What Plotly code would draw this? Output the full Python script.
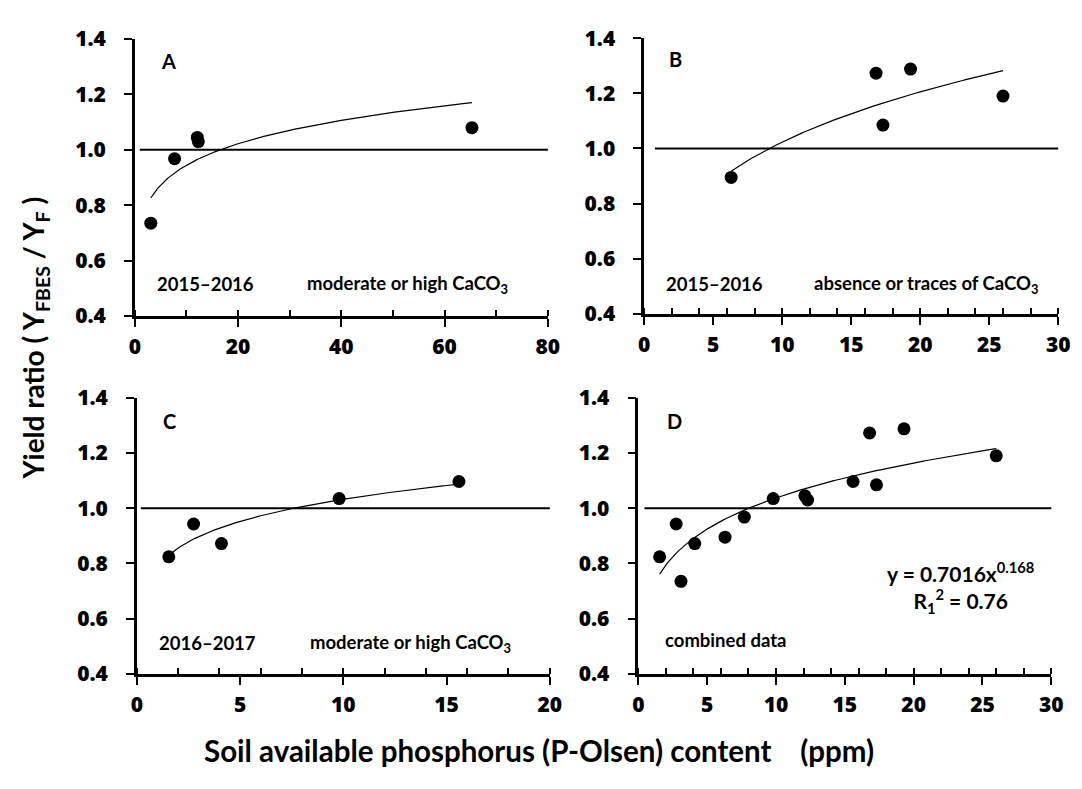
import numpy as np
import plotly.graph_objects as go

# ---------------- data ----------------
a_x = [3.1, 7.7, 12.1, 12.3, 65.3]
a_y = [0.735, 0.968, 1.045, 1.030, 1.080]

b_x = [6.3, 16.8, 17.3, 19.3, 26.0]
b_y = [0.895, 1.273, 1.085, 1.288, 1.190]

c_x = [1.55, 2.75, 4.1, 9.8, 15.6]
c_y = [0.824, 0.943, 0.872, 1.035, 1.097]

# combined data (panel D): A without the 65 ppm outlier, plus B and C
d_x = a_x[:4] + b_x + c_x
d_y = a_y[:4] + b_y + c_y

panel_letters = ["A", "B", "C", "D"]
x_max = [80, 30, 20, 30]
x_dtick = [20, 5, 5, 5]
x_minor = [10, 2, 2, 2]
y_ticks = [0.4, 0.6, 0.8, 1.0, 1.2, 1.4]
y_ticklabels = ["0.4", "0.6", "0.8", "1.0", "1.2", "1.4"]

FONT = "Lato"
TICKFONT = "Open Sans"
BLACK = "#000000"

panels = [(a_x, a_y), (b_x, b_y), (c_x, c_y), (d_x, d_y)]

# pixel-derived domains
x_domains = [[131/1082, 551/1082], [649/1082, 1070/1082],
             [133/1082, 553/1082], [643/1082, 1063/1082]]
y_domains = [[1-312/789, 1-25/789], [1-310/789, 1-24/789],
             [1-683/789, 1-397/789], [1-683/789, 1-397/789]]
ref_start = [0.012, 0.026, 0.01, 0.015]

fig = go.Figure()

for i, (xs, ys) in enumerate(panels):
    xa = "x" if i == 0 else f"x{i+1}"
    ya = "y" if i == 0 else f"y{i+1}"
    # power trendline (least squares in log-log space, as Excel does)
    b, ln_a = np.polyfit(np.log(xs), np.log(ys), 1)
    xf = np.linspace(min(xs), max(xs), 200)
    yf = np.exp(ln_a) * xf ** b
    fig.add_trace(go.Scatter(x=xf, y=yf, mode="lines",
                             line=dict(color=BLACK, width=1.2),
                             xaxis=xa, yaxis=ya, showlegend=False,
                             hoverinfo="skip"))
    fig.add_trace(go.Scatter(x=xs, y=ys, mode="markers",
                             marker=dict(color=BLACK, size=13),
                             xaxis=xa, yaxis=ya, showlegend=False))
    # reference line at ratio = 1
    fig.add_shape(type="line", xref=f"{xa} domain", yref=ya,
                  x0=ref_start[i], x1=1, y0=1, y1=1,
                  line=dict(color=BLACK, width=2))

layout = dict(
    width=1082, height=789,
    margin=dict(l=0, r=0, t=0, b=0),
    paper_bgcolor="white", plot_bgcolor="white",
    font=dict(family=FONT, color=BLACK, size=16),
    showlegend=False,
)

tickfont = dict(family=TICKFONT, size=21, color=BLACK, weight=800)

for i in range(4):
    xk = "xaxis" if i == 0 else f"xaxis{i+1}"
    yk = "yaxis" if i == 0 else f"yaxis{i+1}"
    ya = "y" if i == 0 else f"y{i+1}"
    xa = "x" if i == 0 else f"x{i+1}"
    xt = list(range(0, x_max[i] + 1, x_dtick[i]))
    layout[xk] = dict(
        domain=x_domains[i], anchor=ya, range=[0, x_max[i]],
        tickvals=xt, ticktext=[str(v) for v in xt],
        showgrid=False, zeroline=False,
        showline=True, linecolor=BLACK, linewidth=2.5,
        ticks="outside", ticklen=8, tickwidth=2, tickcolor=BLACK,
        minor=dict(dtick=x_minor[i], tick0=0, ticks="inside", ticklen=6,
                   tickwidth=2, tickcolor=BLACK, showgrid=False),
        tickfont=tickfont,
        ticklabelstandoff=2,
    )
    layout[yk] = dict(
        domain=y_domains[i], anchor=xa, range=[0.4, 1.4],
        tickvals=y_ticks, ticktext=y_ticklabels,
        showgrid=False, zeroline=False,
        showline=True, linecolor=BLACK, linewidth=2.5,
        ticks="outside", ticklen=8, tickwidth=2, tickcolor=BLACK,
        tickfont=tickfont,
        ticklabelstandoff=14,
    )

fig.update_layout(**layout)

ftxt = dict(family=FONT, size=18.5, color=BLACK)
flet = dict(family=FONT, size=20, color=BLACK)
feq = dict(family=FONT, size=21, color=BLACK)

ann = []
# (panel index, x, y, text, font)
texts = [
    (0, 6.5, 1.32, "A", flet),
    (0, 13.7, 0.515, "2015–2016", ftxt),
    (0, 52.8, 0.515, "moderate or high CaCO<sub>3</sub>", ftxt),
    (1, 2.3, 1.323, "B", flet),
    (1, 5.08, 0.508, "2015–2016", ftxt),
    (1, 20.44, 0.508, "absence or traces of CaCO<sub>3</sub>", ftxt),
    (2, 1.59, 1.316, "C", flet),
    (2, 3.44, 0.51, "2016–2017", ftxt),
    (2, 13.24, 0.51, "moderate or high CaCO<sub>3</sub>", ftxt),
    (3, 2.6, 1.316, "D", flet),
    (3, 6.36, 0.523, "combined data", ftxt),
    (3, 23.4, 0.713,
     "y = 0.7016x<sup>0.168</sup><br>R<sub>1</sub><sup>2</sup> = 0.76", feq),
]
for p, x, y, t, f in texts:
    xa = "x" if p == 0 else f"x{p+1}"
    ya = "y" if p == 0 else f"y{p+1}"
    ann.append(dict(x=x, y=y, xref=xa, yref=ya, text=f"<b>{t}</b>",
                    showarrow=False, font=f, align="center",
                    xanchor="center", yanchor="middle"))

ann.append(dict(x=30/1082, y=1-335/789, xref="paper", yref="paper",
                text="<b>Yield ratio ( Y<sub>FBES</sub> / Y<sub>F</sub> )</b>",
                textangle=-90, showarrow=False,
                font=dict(family=FONT, size=28, color=BLACK),
                xanchor="center", yanchor="middle"))
ann.append(dict(x=542/1082, y=1-763/789, xref="paper", yref="paper",
                text="<b>Soil available phosphorus (P-Olsen) content &nbsp;&nbsp; (ppm)</b>",
                showarrow=False,
                font=dict(family=FONT, size=29.5, color=BLACK),
                xanchor="center", yanchor="middle"))

fig.update_layout(annotations=ann)

fig.write_html("out.html")
